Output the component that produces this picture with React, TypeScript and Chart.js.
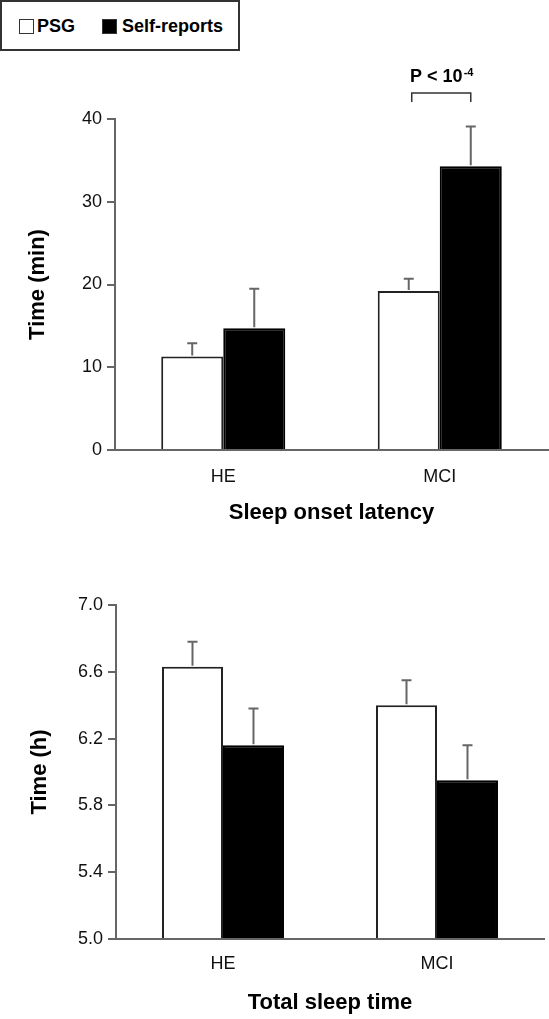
import React, { useEffect, useRef } from 'react';
import { Chart, registerables } from 'chart.js';

Chart.register(...registerables);
Chart.defaults.font.family = '"Liberation Sans", Arial, Helvetica, sans-serif';
Chart.defaults.color = '#111';

// ---------- data ----------
const categories = ['HE', 'MCI'];
const seriesNames = ['PSG', 'Self-reports'];
const seriesFill = ['#ffffff', '#000000'];

// Sleep onset latency (min)
const solPSG = [11.3, 19.2];
const solPSGErr = [1.6, 1.5];
const solSelf = [14.7, 34.3];
const solSelfErr = [4.8, 4.8];
const solTicks = [0, 10, 20, 30, 40];

// Total sleep time (h)
const tstPSG = [6.63, 6.4];
const tstPSGErr = [0.15, 0.15];
const tstSelf = [6.16, 5.95];
const tstSelfErr = [0.22, 0.21];
const tstTicks = [5.0, 5.4, 5.8, 6.2, 6.6, 7.0];

const pLabel = 'P < 10';
const pExp = '-4';

const AXIS = '#666';
const FONT = '"Liberation Sans", Arial, Helvetica, sans-serif';

const errorBarPlugin = {
  id: 'errorBars',
  afterDatasetsDraw(chart: any) {
    const ctx = chart.ctx;
    const yScale = chart.scales.y;
    ctx.save();
    ctx.strokeStyle = '#666';
    ctx.lineWidth = 2;
    chart.data.datasets.forEach((ds: any, i: number) => {
      const meta = chart.getDatasetMeta(i);
      meta.data.forEach((bar: any, j: number) => {
        const v = ds.data[j];
        const e = ds.errors[j];
        const y0 = yScale.getPixelForValue(v);
        const y1 = yScale.getPixelForValue(v + e);
        ctx.beginPath();
        ctx.moveTo(bar.x, y0 - 1);
        ctx.lineTo(bar.x, y1);
        ctx.moveTo(bar.x - 5, y1);
        ctx.lineTo(bar.x + 5, y1);
        ctx.stroke();
      });
    });
    ctx.restore();
  },
};

const pValuePlugin = {
  id: 'pValue',
  afterDatasetsDraw(chart: any) {
    if (!chart.options.plugins.pValue || !chart.options.plugins.pValue.show) return;
    const ctx = chart.ctx;
    const idx = 1;
    const b0 = chart.getDatasetMeta(0).data[idx];
    const b1 = chart.getDatasetMeta(1).data[idx];
    const x0 = b0.x + 3;
    const x1 = b1.x;
    const yLine = 93;
    ctx.save();
    ctx.strokeStyle = '#333';
    ctx.lineWidth = 1.5;
    ctx.beginPath();
    ctx.moveTo(x0, yLine + 9);
    ctx.lineTo(x0, yLine);
    ctx.lineTo(x1, yLine);
    ctx.lineTo(x1, yLine + 9);
    ctx.stroke();
    ctx.fillStyle = '#000';
    ctx.textBaseline = 'alphabetic';
    ctx.font = `bold 18px ${FONT}`;
    const w1 = ctx.measureText(pLabel).width;
    ctx.font = `bold 11px ${FONT}`;
    const w2 = ctx.measureText(pExp).width;
    const cx = (x0 + x1) / 2;
    const start = cx - (w1 + w2) / 2;
    ctx.font = `bold 18px ${FONT}`;
    ctx.textAlign = 'left';
    ctx.fillText(pLabel, start, 82);
    ctx.font = `bold 11px ${FONT}`;
    ctx.fillText(pExp, start + w1 + 1, 76);
    ctx.restore();
  },
};

type PanelProps = {
  top: number;
  height: number;
  padTop: number;
  padRight: number;
  yWidth: number;
  xHeight: number;
  yTitle: string;
  xTitle: string;
  yTitlePad: number;
  xTitlePad: number;
  tickPad: number;
  catPct: number;
  psg: number[];
  psgErr: number[];
  self: number[];
  selfErr: number[];
  ticks: number[];
  decimals: number;
  showP: boolean;
};

function Panel(p: PanelProps) {
  const ref = useRef<HTMLCanvasElement>(null);
  useEffect(() => {
    if (!ref.current) return;
    const base = p.ticks[0];
    const chart = new Chart(ref.current, {
      type: 'bar',
      data: {
        labels: categories,
        datasets: [
          {
            label: seriesNames[0],
            data: p.psg,
            errors: p.psgErr,
            backgroundColor: seriesFill[0],
            borderColor: '#222',
            borderWidth: 2,
            base,
            categoryPercentage: p.catPct,
            barPercentage: 1,
          } as any,
          {
            label: seriesNames[1],
            data: p.self,
            errors: p.selfErr,
            backgroundColor: seriesFill[1],
            borderColor: '#000',
            borderWidth: 2,
            base,
            categoryPercentage: p.catPct,
            barPercentage: 1,
          } as any,
        ],
      },
      options: {
        animation: false,
        responsive: false,
        maintainAspectRatio: false,
        devicePixelRatio: 1,
        layout: { padding: { top: p.padTop, right: p.padRight, left: 0, bottom: 0 } },
        plugins: {
          legend: { display: false },
          tooltip: { enabled: false },
          pValue: { show: p.showP },
        } as any,
        scales: {
          x: {
            type: 'category',
            offset: true,
            grid: { display: false },
            border: { display: true, color: AXIS, width: 2 },
            ticks: { font: { size: 18 }, color: '#111', padding: p.tickPad, maxRotation: 0 },
            title: {
              display: true,
              text: p.xTitle,
              color: '#000',
              font: { size: 22, weight: 'bold' },
              padding: { top: 0, bottom: p.xTitlePad },
            },
            afterFit: (s: any) => {
              s.height = p.xHeight;
            },
          },
          y: {
            min: p.ticks[0],
            max: p.ticks[p.ticks.length - 1],
            afterBuildTicks: (s: any) => {
              s.ticks = p.ticks.map((v) => ({ value: v }));
            },
            ticks: {
              font: { size: 18 },
              color: '#111',
              padding: 5,
              callback: (v: any) => Number(v).toFixed(p.decimals),
            },
            grid: { drawOnChartArea: false, drawTicks: true, tickLength: 8, color: AXIS, lineWidth: 2 },
            border: { display: true, color: AXIS, width: 2 },
            title: {
              display: true,
              text: p.yTitle,
              color: '#000',
              font: { size: 22, weight: 'bold' },
              padding: { top: p.yTitlePad, bottom: 0 },
            },
            afterFit: (s: any) => {
              s.width = p.yWidth;
            },
          },
        },
      } as any,
      plugins: [errorBarPlugin, pValuePlugin],
    });
    return () => chart.destroy();
  }, []);
  return (
    <canvas
      ref={ref}
      width={549}
      height={p.height}
      style={{ position: 'absolute', left: 0, top: p.top, width: 549, height: p.height, display: 'block' }}
    />
  );
}

function Legend() {
  const items = seriesNames.map((name, i) => ({ name, fill: seriesFill[i] }));
  const xs = [19, 102];
  return (
    <div
      style={{
        position: 'absolute',
        left: 0,
        top: 0,
        width: 240,
        height: 51,
        boxSizing: 'border-box',
        border: '2px solid #333',
        background: '#fff',
        fontFamily: FONT,
        zIndex: 2,
      }}
    >
      {items.map((it, i) => (
        <div
          key={it.name}
          style={{
            position: 'absolute',
            left: xs[i] - 2,
            top: 13,
            height: 22,
            display: 'flex',
            alignItems: 'center',
          }}
        >
          <span
            style={{
              display: 'inline-block',
              width: 15,
              height: 15,
              boxSizing: 'border-box',
              border: '1.5px solid #333',
              background: it.fill,
              marginRight: i === 0 ? 3 : 5,
            }}
          />
          <span style={{ fontWeight: 'bold', fontSize: 18, color: '#000', lineHeight: '22px' }}>{it.name}</span>
        </div>
      ))}
    </div>
  );
}

export default function App() {
  return (
    <div style={{ position: 'absolute', left: 0, top: 0, width: 549, height: 1019, background: '#fff', overflow: 'hidden' }}>
      <Panel
        top={0}
        height={530}
        padTop={119}
        padRight={1}
        yWidth={115}
        xHeight={80}
        yTitle="Time (min)"
        xTitle="Sleep onset latency"
        yTitlePad={25}
        xTitlePad={4}
        tickPad={8}
        catPct={0.573}
        psg={solPSG}
        psgErr={solPSGErr}
        self={solSelf}
        selfErr={solSelfErr}
        ticks={solTicks}
        decimals={0}
        showP={true}
      />
      <Panel
        top={550}
        height={469}
        padTop={55}
        padRight={5}
        yWidth={116}
        xHeight={80}
        yTitle="Time (h)"
        xTitle="Total sleep time"
        yTitlePad={27}
        xTitlePad={3}
        tickPad={6}
        catPct={0.57}
        psg={tstPSG}
        psgErr={tstPSGErr}
        self={tstSelf}
        selfErr={tstSelfErr}
        ticks={tstTicks}
        decimals={1}
        showP={false}
      />
      <Legend />
    </div>
  );
}
